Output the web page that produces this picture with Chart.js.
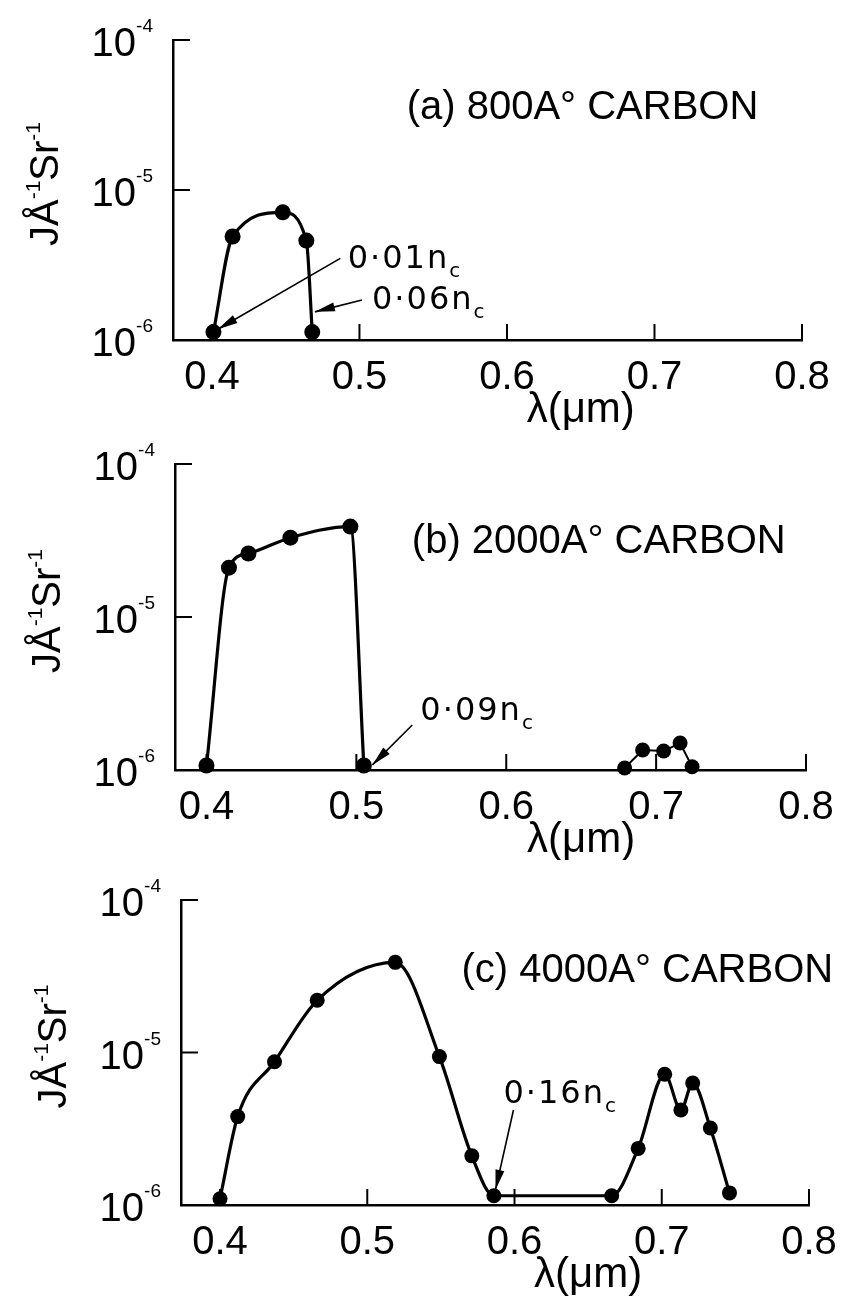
<!DOCTYPE html>
<html>
<head>
<meta charset="utf-8">
<script src="https://cdn.jsdelivr.net/npm/chart.js@4.4.0/dist/chart.umd.min.js"></script>
<style>
  html, body { margin: 0; padding: 0; background: #fff; }
  #wrap { position: relative; width: 855px; height: 1307px; background: #fff; }
  canvas { position: absolute; left: 0; }
</style>
</head>
<body>
<div id="wrap">
  <canvas id="chartA" width="855" height="430" style="top:0px;width:855px;height:430px"></canvas>
  <canvas id="chartB" width="855" height="430" style="top:430px;width:855px;height:430px"></canvas>
  <canvas id="chartC" width="855" height="447" style="top:860px;width:855px;height:447px"></canvas>
</div>
<script>
// ---------- data ----------
const xTicks = [0.4, 0.5, 0.6, 0.7, 0.8];
const xTickLabels = ['0.4', '0.5', '0.6', '0.7', '0.8'];
const yTicks = [1e-6, 1e-5, 1e-4];

const panelTitles = ['(a) 800A° CARBON', '(b) 2000A° CARBON', '(c) 4000A° CARBON'];
const xAxisTitle = 'λ(μm)';

// (a) 800 Å carbon
const lambdaA    = [0.401, 0.414, 0.448, 0.464, 0.468];
const intensityA = [1.13e-6, 4.9e-6, 7.1e-6, 4.6e-6, 1.13e-6];

// (b) 2000 Å carbon
const lambdaB    = [0.400, 0.415, 0.428, 0.456, 0.496, 0.505];
const intensityB = [1.07e-6, 2.1e-5, 2.6e-5, 3.3e-5, 3.9e-5, 1.07e-6];
const lambdaB2    = [0.679, 0.691, 0.705, 0.716, 0.724];
const intensityB2 = [1.03e-6, 1.35e-6, 1.33e-6, 1.5e-6, 1.05e-6];

// (c) 4000 Å carbon
const lambdaC    = [0.400, 0.412, 0.437, 0.466, 0.519, 0.549, 0.571, 0.586, 0.666, 0.684, 0.702, 0.713, 0.721, 0.733, 0.746];
const intensityC = [1.1e-6, 3.8e-6, 8.7e-6, 2.2e-5, 3.9e-5, 9.4e-6, 2.1e-6, 1.15e-6, 1.15e-6, 2.35e-6, 7.2e-6, 4.2e-6, 6.3e-6, 3.2e-6, 1.2e-6];

// density annotations (label text, anchor in data units, arrow tail and tip in data units)
const notesA = [
  { text: '0·01n', sub: 'c', at: [0.492, 3.6e-6], tail: [0.487, 3.5e-6], tip: [0.404, 1.18e-6] },
  { text: '0·06n', sub: 'c', at: [0.5085, 1.9e-6], tail: [0.5017, 1.85e-6], tip: [0.4698, 1.54e-6] }
];
const notesB = [
  { text: '0·09n', sub: 'c', at: [0.5427, 2.5e-6], tail: [0.5373, 1.97e-6], tip: [0.5107, 1.08e-6] }
];
const notesC = [
  { text: '0·16n', sub: 'c', at: [0.5925, 5.5e-6], tail: [0.5993, 4.2e-6], tip: [0.5871, 1.26e-6] }
];
const titleAnchors = [[0.532, 3.5e-5], [0.537, 3.1e-5], [0.564, 3.4e-5]];

// ---------- styling / layout ----------
const FONT = "'Liberation Sans', Arial, sans-serif";
const NOTE_FONT = "'DejaVu Sans', sans-serif";

function pts(xs, ys) { return xs.map((x, i) => ({ x: x, y: ys[i] })); }

function drawRuns(ctx, runs, x, y, align) {
  // runs: [text, fontSize, dy]
  let total = 0;
  runs.forEach(r => { ctx.font = r[1] + 'px ' + FONT; total += ctx.measureText(r[0]).width; });
  let cx = align === 'center' ? x - total / 2 : (align === 'right' ? x - total : x);
  ctx.textAlign = 'left';
  ctx.textBaseline = 'alphabetic';
  runs.forEach(r => {
    ctx.font = r[1] + 'px ' + FONT;
    ctx.fillText(r[0], cx, y + r[2]);
    cx += ctx.measureText(r[0]).width;
  });
}

function decorPlugin(cfg) {
  return {
    id: 'decor' + cfg.key,
    afterDatasetsDraw(chart) {
      const ctx = chart.ctx, ca = chart.chartArea;
      const xs = chart.scales.x, ys = chart.scales.y;
      ctx.save();
      ctx.strokeStyle = '#000';
      ctx.fillStyle = '#000';
      ctx.lineWidth = 2;
      // inward tick marks
      xTicks.forEach(v => {
        const px = xs.getPixelForValue(v);
        ctx.beginPath(); ctx.moveTo(px, ca.bottom); ctx.lineTo(px, ca.bottom - 16); ctx.stroke();
      });
      yTicks.forEach((v, i) => {
        if (i === 0) return;
        const py = ys.getPixelForValue(v);
        ctx.beginPath(); ctx.moveTo(ca.left, py); ctx.lineTo(ca.left + 17, py); ctx.stroke();
      });
      // y tick labels 10^n
      yTicks.forEach(v => {
        const py = ys.getPixelForValue(v);
        const e = Math.round(Math.log10(v));
        drawRuns(ctx, [['10', 40, 16], ['-' + Math.abs(e), 19, -8]], ca.left - 20, py, 'right');
      });
      // y axis title (rotated)
      ctx.save();
      ctx.translate(ca.left - 115, (ca.top + ca.bottom) / 2 - 6);
      ctx.rotate(-Math.PI / 2);
      drawRuns(ctx, [['JÅ', 40, 0], ['-1', 21, -18], ['Sr', 40, 0], ['-1', 21, -18]], 0, 0, 'center');
      ctx.restore();
      // x axis title
      ctx.font = '42px ' + FONT;
      ctx.textAlign = 'center';
      ctx.textBaseline = 'alphabetic';
      ctx.fillText(xAxisTitle, xs.getPixelForValue(0.65), ca.bottom + 82);
      // panel title
      ctx.font = '40px ' + FONT;
      ctx.textAlign = 'left';
      ctx.textBaseline = 'middle';
      ctx.fillText(cfg.title, xs.getPixelForValue(cfg.titleAt[0]), ys.getPixelForValue(cfg.titleAt[1]));
      // notes with arrows
      cfg.notes.forEach(n => {
        const tx = xs.getPixelForValue(n.at[0]), ty = ys.getPixelForValue(n.at[1]);
        ctx.font = '32px ' + NOTE_FONT;
        try { ctx.letterSpacing = '2px'; } catch (e) {}
        ctx.textAlign = 'left';
        ctx.textBaseline = 'alphabetic';
        ctx.fillText(n.text, tx, ty + 11);
        const w = ctx.measureText(n.text).width;
        ctx.font = '20px ' + NOTE_FONT;
        try { ctx.letterSpacing = '0px'; } catch (e) {}
        ctx.fillText(n.sub, tx + w, ty + 20);
        const x0 = xs.getPixelForValue(n.tail[0]), y0 = ys.getPixelForValue(n.tail[1]);
        const x1 = xs.getPixelForValue(n.tip[0]), y1 = ys.getPixelForValue(n.tip[1]);
        const ang = Math.atan2(y1 - y0, x1 - x0);
        ctx.lineWidth = 1.6;
        ctx.beginPath(); ctx.moveTo(x0, y0); ctx.lineTo(x1, y1); ctx.stroke();
        const L = 20, hw = 4.5;
        ctx.beginPath();
        ctx.moveTo(x1, y1);
        ctx.lineTo(x1 - L * Math.cos(ang) + hw * Math.sin(ang), y1 - L * Math.sin(ang) - hw * Math.cos(ang));
        ctx.lineTo(x1 - L * Math.cos(ang) - hw * Math.sin(ang), y1 - L * Math.sin(ang) + hw * Math.cos(ang));
        ctx.closePath(); ctx.fill();
      });
      ctx.restore();
    }
  };
}

function lineSet(data, opts) {
  return Object.assign({
    data: data,
    borderColor: '#000',
    borderWidth: 3.2,
    pointRadius: 8,
    pointBackgroundColor: '#000',
    pointBorderColor: '#000',
    pointBorderWidth: 0,
    cubicInterpolationMode: 'monotone',
    showLine: true,
    fill: false,
    clip: false
  }, opts || {});
}

function makeChart(id, cfg) {
  const canvas = document.getElementById(id);
  const W = canvas.width, H = canvas.height;
  const a = cfg.area;
  return new Chart(canvas, {
    type: 'line',
    data: { datasets: cfg.datasets },
    options: {
      responsive: false,
      animation: false,
      devicePixelRatio: 1,
      layout: { padding: { left: 0, right: W - a.right, top: a.top, bottom: 0 } },
      plugins: { legend: { display: false }, tooltip: { enabled: false } },
      scales: {
        x: {
          type: 'linear', min: cfg.xMin, max: 0.8,
          afterFit: s => { s.height = H - a.bottom; },
          afterBuildTicks: s => { s.ticks = xTicks.map(v => ({ value: v })); },
          grid: { display: false, drawTicks: false },
          border: { display: true, color: '#000', width: 2.5 },
          ticks: {
            color: '#000', padding: 14, maxRotation: 0, autoSkip: false,
            font: { family: FONT, size: 40 },
            callback: (v, i) => xTickLabels[i]
          }
        },
        y: {
          type: 'logarithmic', min: 1e-6, max: 1e-4,
          afterFit: s => { s.width = a.left; },
          afterBuildTicks: s => { s.ticks = yTicks.map(v => ({ value: v })); },
          grid: { display: false, drawTicks: false },
          border: { display: true, color: '#000', width: 2.5 },
          ticks: { display: false }
        }
      }
    },
    plugins: [decorPlugin(cfg)]
  });
}

makeChart('chartA', {
  key: 'A', title: panelTitles[0], titleAt: titleAnchors[0], notes: notesA,
  area: { left: 173, right: 802, top: 40, bottom: 340 }, xMin: 0.3736,
  datasets: [lineSet(pts(lambdaA, intensityA))]
});
makeChart('chartB', {
  key: 'B', title: panelTitles[1], titleAt: titleAnchors[1], notes: notesB,
  area: { left: 175, right: 806, top: 34, bottom: 340 }, xMin: 0.379,
  datasets: [
    lineSet(pts(lambdaB, intensityB)),
    lineSet(pts(lambdaB2, intensityB2), { borderWidth: 2, cubicInterpolationMode: 'default', tension: 0, pointRadius: 7.5 })
  ]
});
makeChart('chartC', {
  key: 'C', title: panelTitles[2], titleAt: titleAnchors[2], notes: notesC,
  area: { left: 181, right: 809, top: 40, bottom: 345 }, xMin: 0.3735,
  datasets: [lineSet(pts(lambdaC, intensityC), { pointRadius: 7.5 })]
});
</script>
</body>
</html>
